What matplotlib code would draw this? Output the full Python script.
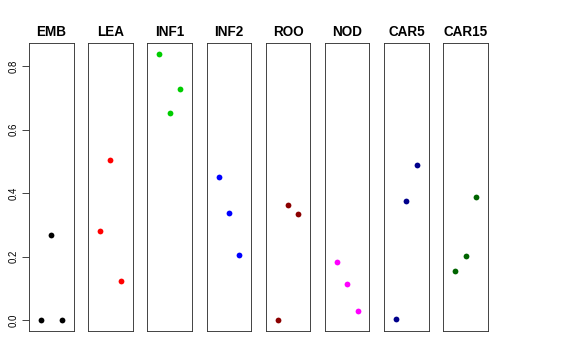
import matplotlib
matplotlib.use("Agg")
import matplotlib.pyplot as plt

categories = ["EMB", "LEA", "INF1", "INF2", "ROO", "NOD", "CAR5", "CAR15"]
colors = ["#000000", "#FF0000", "#00CD00", "#0000FF", "#8B0000", "#FF00FF", "#00008B", "#006400"]
emb = [0.0, 0.269, 0.0]
lea = [0.281, 0.503, 0.124]
inf1 = [0.838, 0.652, 0.728]
inf2 = [0.451, 0.339, 0.206]
roo = [0.0, 0.362, 0.334]
nod = [0.183, 0.115, 0.028]
car5 = [0.003, 0.374, 0.489]
car15 = [0.156, 0.203, 0.388]
series = [emb, lea, inf1, inf2, roo, nod, car5, car15]
xpos = [1, 2, 3]
yticks = [0.0, 0.2, 0.4, 0.6, 0.8]

plt.rcParams['font.family'] = ['Liberation Sans', 'DejaVu Sans']
W, H = 576, 360
fig = plt.figure(figsize=(W / 72, H / 72), dpi=72)

ymax = max(max(s) for s in series)
ymin = 0.0
pad = (ymax - ymin) * 0.04
left0, step, width = 29.0, 59.19, 44.5
top, bottom = 43.3, 331.0

for i, (cat, col, vals) in enumerate(zip(categories, colors, series)):
    l = left0 + i * step
    ax = fig.add_axes([l / W, (H - bottom) / H, width / W, (bottom - top) / H])
    ax.plot(xpos, vals, 'o', color=col, markersize=5.8, markeredgewidth=0)
    ax.set_xlim(-0.16, 4.16)
    ax.set_ylim(ymin - pad, ymax + pad)
    ax.set_xticks([])
    for sp in ax.spines.values():
        sp.set_linewidth(0.9)
        sp.set_color('#333333')
    ax.set_title(cat, fontsize=13.5, fontweight='bold', pad=7.5)
    if i == 0:
        ax.set_yticks(yticks)
        ax.set_yticklabels([f"{v:.1f}" for v in yticks], rotation=90, va='center', fontsize=9.6)
        ax.tick_params(axis='y', length=7, width=0.9, color='#333333', pad=3)
    else:
        ax.set_yticks([])

fig.savefig("out.png", dpi=72)
